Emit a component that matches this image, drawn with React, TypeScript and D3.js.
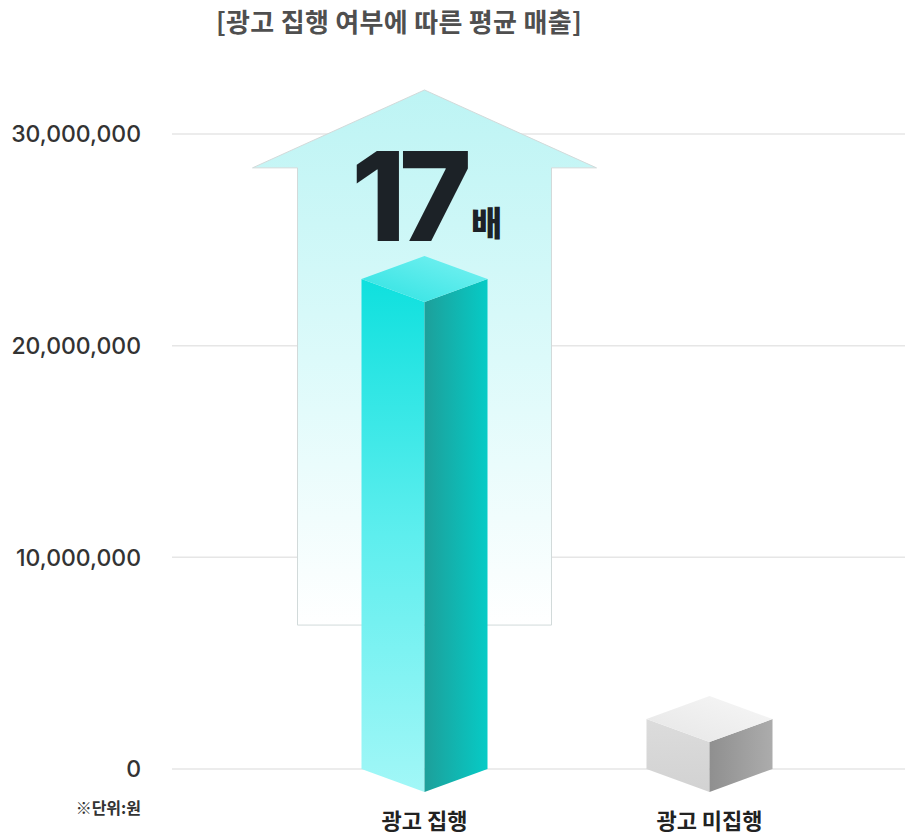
import React from "react";
import * as d3 from "d3";

const categories = ["광고 집행", "광고 미집행"];
const values = [23150000, 2360000];
const yTicks = [0, 10000000, 20000000, 30000000];
const title = "[광고 집행 여부에 따른 평균 매출]";
const unitLabel = "※단위:원";
const multipleNumber = "17";
const multipleUnit = "배";
// arrow extent in data units (tip, head base, bottom)
const arrowTip = 32080000;
const arrowHeadBase = 28400000;
const arrowBottom = 6800000;

const W = 905;
const H = 835;
const KR = "'Noto Sans CJK KR', 'Noto Sans', sans-serif";
const NUM = "Inter, 'Noto Sans', sans-serif";

export default function App() {
  const y = d3.scaleLinear().domain([0, 30000000]).range([769, 134]);
  const x = d3.scaleBand<string>().domain(categories).range([282, 852]);
  const halfW = 63;
  const depth = 23;
  const fmt = d3.format(",");
  const y0 = y(0);

  const boxes = categories.map((c, i) => {
    const cx = (x(c) as number) + x.bandwidth() / 2;
    const yv = y(values[i]);
    const line = d3.line();
    const left = line([
      [cx - halfW, yv],
      [cx, yv + depth],
      [cx, y0 + depth],
      [cx - halfW, y0],
    ]);
    const right = line([
      [cx, yv + depth],
      [cx + halfW, yv],
      [cx + halfW, y0],
      [cx, y0 + depth],
    ]);
    const top = line([
      [cx - halfW, yv],
      [cx, yv - depth],
      [cx + halfW, yv],
      [cx, yv + depth],
    ]);
    return { c, cx, left, right, top, i };
  });

  const acx = boxes[0].cx;
  const headHalf = 172;
  const shaftHalf = 127;
  const arrowPath = d3.line()([
    [acx, y(arrowTip)],
    [acx + headHalf, y(arrowHeadBase)],
    [acx + shaftHalf, y(arrowHeadBase)],
    [acx + shaftHalf, y(arrowBottom)],
    [acx - shaftHalf, y(arrowBottom)],
    [acx - shaftHalf, y(arrowHeadBase)],
    [acx - headHalf, y(arrowHeadBase)],
  ]) + "Z";

  return (
    <svg width={W} height={H} style={{ position: "absolute", left: 0, top: 0, background: "#fff" }}>
      <defs>
        <linearGradient id="arrowGrad" x1="0" y1="0" x2="0" y2="1">
          <stop offset="0" stopColor="#bdf4f4" />
          <stop offset="0.5" stopColor="#dcfafa" />
          <stop offset="1" stopColor="#ffffff" />
        </linearGradient>
        <linearGradient id="c-left" x1="0" y1="0" x2="0" y2="1">
          <stop offset="0" stopColor="#0fe0de" />
          <stop offset="0.5" stopColor="#5eeeee" />
          <stop offset="1" stopColor="#a2f7f7" />
        </linearGradient>
        <linearGradient id="c-right" x1="0" y1="0" x2="1" y2="0">
          <stop offset="0" stopColor="#1d9f9a" />
          <stop offset="1" stopColor="#06cbc6" />
        </linearGradient>
        <linearGradient id="c-top" x1="0" y1="1" x2="1" y2="0">
          <stop offset="0" stopColor="#2ee2e2" />
          <stop offset="1" stopColor="#7af2f2" />
        </linearGradient>
        <linearGradient id="g-left" x1="0" y1="0" x2="0" y2="1">
          <stop offset="0" stopColor="#dcdcdc" />
          <stop offset="1" stopColor="#d2d2d2" />
        </linearGradient>
        <linearGradient id="g-right" x1="0" y1="0" x2="1" y2="0">
          <stop offset="0" stopColor="#8f8f8f" />
          <stop offset="1" stopColor="#acacac" />
        </linearGradient>
        <linearGradient id="g-top" x1="0" y1="1" x2="1" y2="0">
          <stop offset="0" stopColor="#e6e6e6" />
          <stop offset="1" stopColor="#f7f7f7" />
        </linearGradient>
      </defs>

      <text x={399} y={32} textAnchor="middle" fontFamily={KR} fontWeight={700} fontSize={26} letterSpacing={0.3} fill="#4f4f4f">
        {title}
      </text>

      {yTicks.map((t) => (
        <g key={t}>
          <line x1={172} x2={W} y1={y(t)} y2={y(t)} stroke="#e6e6e6" strokeWidth={1.5} />
          <text x={141} y={y(t)} dy="0.36em" textAnchor="end" fontFamily={NUM} fontSize={23} fontWeight={500} fill="#333">
            {fmt(t)}
          </text>
        </g>
      ))}
      <text x={141} y={814} textAnchor="end" fontFamily={KR} fontWeight={700} fontSize={16} fill="#333">
        {unitLabel}
      </text>

      <path d={arrowPath} fill="url(#arrowGrad)" stroke="#d2dada" strokeWidth={1} />

      <text x={408} y={241} textAnchor="middle" fontFamily={NUM} fontWeight={800} fontSize={124} letterSpacing={-7} fill="#1c2227">
        {multipleNumber}
      </text>
      <text x={471} y={236} fontFamily={KR} fontWeight={900} fontSize={34} fill="#1c2227">
        {multipleUnit}
      </text>

      {boxes.map((b) => {
        const p = b.i === 0 ? "c" : "g";
        return (
          <g key={b.c}>
            <path d={b.left || ""} fill={`url(#${p}-left)`} />
            <path d={b.right || ""} fill={`url(#${p}-right)`} />
            <path d={b.top || ""} fill={`url(#${p}-top)`} />
            <text x={b.cx} y={829} textAnchor="middle" fontFamily={KR} fontWeight={700} fontSize={22} fill="#222">
              {b.c}
            </text>
          </g>
        );
      })}
    </svg>
  );
}
